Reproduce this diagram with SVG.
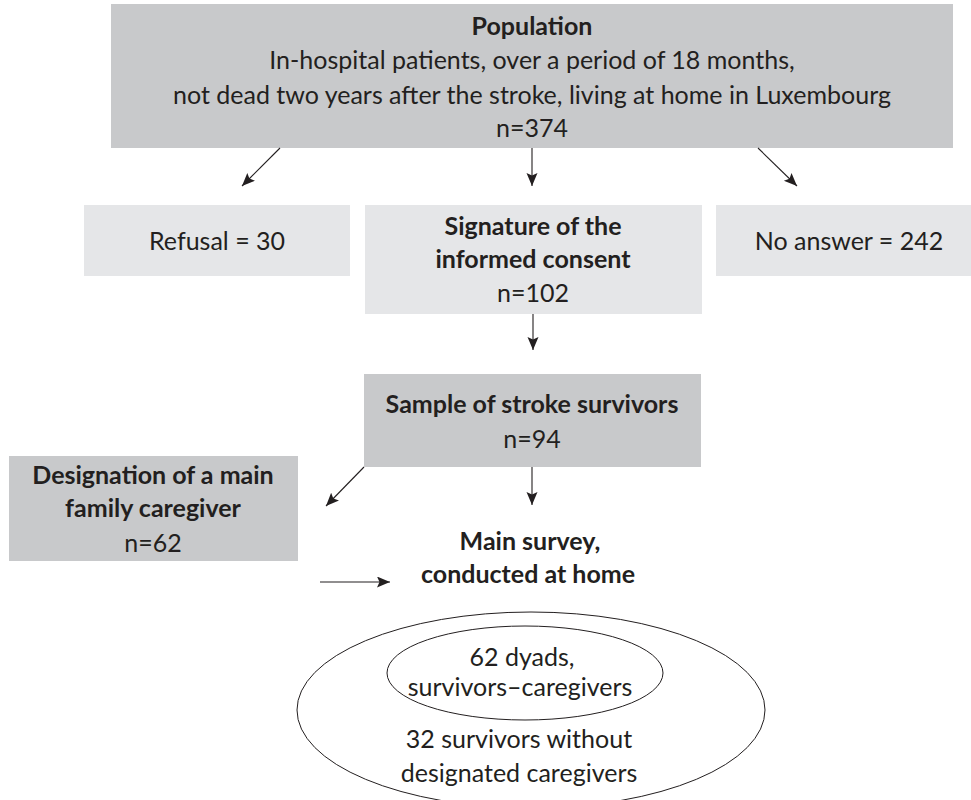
<svg xmlns="http://www.w3.org/2000/svg" width="971" height="800" viewBox="0 0 971 800">
<style>
  .dark { fill: #c8c9cb; }
  .light { fill: #e5e6e8; }
  text { font-family: Lato, "Liberation Sans", sans-serif; font-size: 25px; fill: #231f20; text-anchor: middle; }
  .b { font-weight: bold; }
  .conn line { stroke: #231f20; stroke-width: 1.1; marker-end: url(#ah); }
  ellipse { fill: none; stroke: #231f20; stroke-width: 1; }
</style>
<defs>
  <marker id="ah" markerUnits="userSpaceOnUse" markerWidth="14" markerHeight="12" refX="13" refY="5.5" orient="auto">
    <path d="M0,0 L13,5.5 L0,11 L2.5,5.5 z" fill="#231f20"/>
  </marker>
</defs>
<rect width="971" height="800" fill="#ffffff"/>

<g id="population">
  <rect class="dark" x="111" y="4" width="842" height="144"/>
  <text class="b" x="532" y="35">Population</text>
  <text x="532" y="69">In-hospital patients, over a period of 18 months,</text>
  <text x="532" y="104">not dead two years after the stroke, living at home in Luxembourg</text>
  <text x="532" y="137">n=374</text>
</g>

<g id="refusal">
  <rect class="light" x="84" y="205" width="266" height="71"/>
  <text x="217" y="250">Refusal = 30</text>
</g>

<g id="signature">
  <rect class="light" x="365" y="205" width="337" height="109"/>
  <text class="b" x="533" y="235">Signature of the</text>
  <text class="b" x="533" y="268">informed consent</text>
  <text x="533" y="302">n=102</text>
</g>

<g id="noanswer">
  <rect class="light" x="716" y="205" width="266" height="71"/>
  <text x="849" y="250">No answer = 242</text>
</g>

<g id="sample">
  <rect class="dark" x="364" y="374" width="337" height="93"/>
  <text class="b" x="532" y="413">Sample of stroke survivors</text>
  <text x="532" y="448">n=94</text>
</g>

<g id="designation">
  <rect class="dark" x="9" y="456" width="289" height="105"/>
  <text class="b" x="153" y="484">Designation of a main</text>
  <text class="b" x="153" y="517">family caregiver</text>
  <text x="153" y="552">n=62</text>
</g>

<g id="mainsurvey">
  <text class="b" x="530" y="550">Main survey,</text>
  <text class="b" x="528" y="583">conducted at home</text>
</g>

<g id="outer">
  <ellipse cx="531" cy="710" rx="234" ry="98"/>
  <text x="519" y="748">32 survivors without</text>
  <text x="519" y="782">designated caregivers</text>
</g>

<g id="inner">
  <ellipse cx="525" cy="673" rx="138" ry="47"/>
  <text x="522" y="666">62 dyads,</text>
  <text x="520" y="696">survivors–caregivers</text>
</g>

<g class="conn" id="connectors">
  <line x1="280" y1="148" x2="242" y2="186"/>
  <line x1="532" y1="148" x2="532" y2="186"/>
  <line x1="758" y1="148" x2="797" y2="186"/>
  <line x1="533" y1="314" x2="533" y2="350"/>
  <line x1="364" y1="467" x2="326" y2="506"/>
  <line x1="532" y1="467" x2="532" y2="505"/>
  <line x1="320" y1="582" x2="390" y2="582"/>
</g>
</svg>
